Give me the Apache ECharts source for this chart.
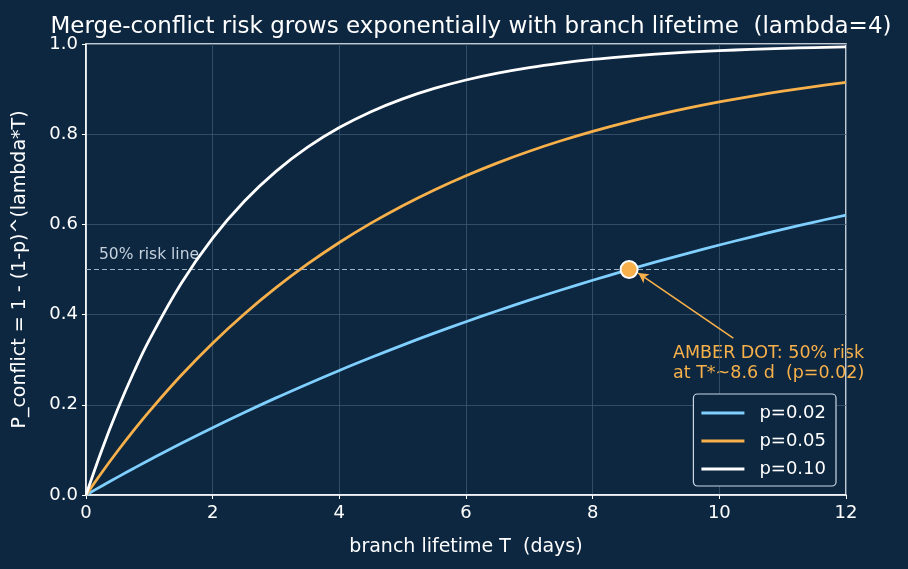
<!DOCTYPE html>
<html>
<head>
<meta charset="utf-8">
<script src="https://cdn.jsdelivr.net/npm/echarts@6/dist/echarts.min.js"></script>
<style>
  html, body { margin: 0; padding: 0; background: #0d2740; }
  #chart { width: 908px; height: 569px; }
</style>
</head>
<body>
<div id="chart"></div>
<script>
// branch lifetime T (days)
const days = [0, 0.25, 0.5, 0.75, 1, 1.5, 2, 2.5, 3, 3.5, 4, 4.5, 5, 5.5, 6, 6.5, 7, 7.5, 8, 8.5, 9, 9.5, 10, 10.5, 11, 11.5, 12];
// conflict probability per p
const riskP02 = [0, 0.0200, 0.0396, 0.0588, 0.0776, 0.1142, 0.1492, 0.1829, 0.2153, 0.2463, 0.2762, 0.3048, 0.3324, 0.3588, 0.3842, 0.4086, 0.4320, 0.4545, 0.4761, 0.4969, 0.5168, 0.5359, 0.5543, 0.5719, 0.5889, 0.6052, 0.6208];
const riskP05 = [0, 0.0500, 0.0975, 0.1426, 0.1855, 0.2649, 0.3366, 0.4013, 0.4596, 0.5123, 0.5599, 0.6028, 0.6415, 0.6765, 0.7080, 0.7365, 0.7622, 0.7854, 0.8063, 0.8252, 0.8422, 0.8576, 0.8715, 0.8840, 0.8953, 0.9055, 0.9147];
const riskP10 = [0, 0.1000, 0.1900, 0.2710, 0.3439, 0.4686, 0.5695, 0.6513, 0.7176, 0.7712, 0.8147, 0.8499, 0.8784, 0.9015, 0.9202, 0.9354, 0.9477, 0.9576, 0.9657, 0.9722, 0.9775, 0.9818, 0.9852, 0.9880, 0.9903, 0.9921, 0.9936];
const seriesNames = ["p=0.02", "p=0.05", "p=0.10"];
const xTicks = [0, 2, 4, 6, 8, 10, 12];
const yTicks = [0, 0.2, 0.4, 0.6, 0.8, 1.0];
const halfRisk = 0.5;
const amberDot = [8.575, 0.5];

const colors = ["#7fcfff", "#f7b04a", "#ffffff"];
const font = "DejaVu Sans";

function pairs(ys) {
  return days.map((t, i) => [t, ys[i]]);
}

const lineSeries = [riskP02, riskP05, riskP10].map((ys, i) => ({
  name: seriesNames[i],
  type: "line",
  data: pairs(ys),
  smooth: 0.4,
  showSymbol: false,
  z: 3 + i,
  lineStyle: { color: colors[i], width: 2.8 },
  itemStyle: { color: colors[i] }
}));

const option = {
  backgroundColor: "#0d2740",
  animation: false,
  textStyle: { fontFamily: font },
  title: {
    text: "Merge-conflict risk grows exponentially with branch lifetime  (lambda=4)",
    left: 466,
    textAlign: "center",
    top: 11,
    textStyle: { color: "#ffffff", fontSize: 23, fontWeight: "normal", fontFamily: font }
  },
  grid: {
    left: 86, right: 62, top: 44, bottom: 74,
    containLabel: false,
    outerBoundsMode: "none",
    show: true, borderColor: "#ffffff", borderWidth: 1.5, backgroundColor: "transparent"
  },
  legend: {
    data: seriesNames,
    orient: "vertical",
    right: 72,
    bottom: 83,
    icon: "rect",
    itemWidth: 43,
    itemHeight: 3,
    itemGap: 10,
    padding: [10, 10, 8, 8],
    backgroundColor: "#0d2740",
    borderColor: "#c9d6e3",
    borderWidth: 1.2,
    borderRadius: 4,
    textStyle: { color: "#ffffff", fontSize: 18, fontFamily: font, padding: [0, 0, 0, 10] }
  },
  xAxis: {
    type: "value",
    min: 0, max: 12, interval: 2,
    name: "branch lifetime T  (days)",
    nameLocation: "middle",
    nameGap: 43,
    nameTextStyle: { color: "#ffffff", fontSize: 19 },
    axisLine: { lineStyle: { color: "#ffffff", width: 1.5 } },
    axisTick: { show: true, length: 4, lineStyle: { color: "#ffffff" } },
    axisLabel: { color: "#ffffff", fontSize: 18, margin: 9 },
    splitLine: { show: true, lineStyle: { color: "#3a5570", width: 0.8 } }
  },
  yAxis: {
    type: "value",
    min: 0, max: 1, interval: 0.2,
    name: "P_conflict = 1 - (1-p)^(lambda*T)",
    nameLocation: "middle",
    nameGap: 56,
    nameTextStyle: { color: "#ffffff", fontSize: 19 },
    axisLine: { show: true, lineStyle: { color: "#ffffff", width: 1.5 } },
    axisTick: { show: true, length: 4, lineStyle: { color: "#ffffff" } },
    axisLabel: {
      color: "#ffffff", fontSize: 18, margin: 8,
      formatter: v => yTicks.some(t => Math.abs(t - v) < 1e-9) ? v.toFixed(1) : ""
    },
    splitLine: { show: true, lineStyle: { color: "#3a5570", width: 0.8 } }
  },
  series: [
    ...lineSeries,
    {
      name: "risk line",
      type: "line",
      data: [],
      silent: true,
      markLine: {
        silent: true,
        symbol: ["none", "none"],
        lineStyle: { color: "#9fb2c6", type: [5, 3], width: 1.2 },
        label: { show: false },
        data: [{ yAxis: halfRisk }]
      }
    },
    {
      name: "arrow",
      type: "line",
      data: [],
      silent: true,
      markLine: {
        silent: true,
        symbol: ["none", "arrow"],
        symbolSize: [8, 10],
        lineStyle: { color: "#f7b04a", type: "solid", width: 1.6 },
        label: { show: false },
        data: [[{ coord: [10.22, 0.348] }, { coord: [8.72, 0.492] }]]
      }
    },
    {
      name: "dot",
      type: "scatter",
      data: [amberDot],
      symbolSize: 17,
      z: 10,
      itemStyle: { color: "#f7b04a", borderColor: "#ffffff", borderWidth: 2, opacity: 1 }
    }
  ],
  graphic: [
    {
      type: "text",
      left: 99, top: 247,
      style: { text: "50% risk line", fill: "#c4d0dc", fontSize: 15.5, fontFamily: font }
    },
    {
      type: "text",
      left: 673, top: 343,
      style: {
        text: "AMBER DOT: 50% risk\nat T*~8.6 d  (p=0.02)",
        fill: "#f7b04a", fontSize: 17.5, lineHeight: 20, fontFamily: font
      }
    }
  ]
};

const chartObj = echarts.init(document.getElementById("chart"));
chartObj.setOption(option);
</script>
</body>
</html>
